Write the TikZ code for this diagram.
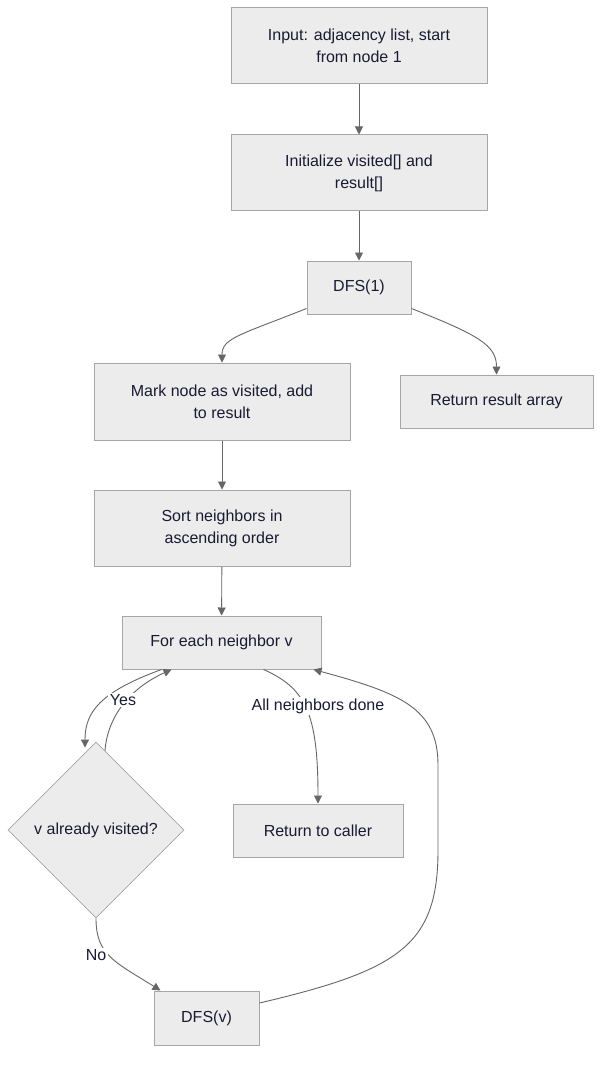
\documentclass[tikz,border=0pt]{standalone}
\usepackage{fontspec}
\setmainfont{Liberation Sans}
\usetikzlibrary{shapes.geometric,arrows.meta}
\definecolor{boxfill}{HTML}{ECECEC}
\definecolor{boxline}{HTML}{A6A6A6}
\definecolor{edgecol}{HTML}{666666}
\definecolor{txt}{HTML}{1A1A33}
\begin{document}
\begin{tikzpicture}[x=1pt,y=-1pt,
  box/.style={draw=boxline,fill=boxfill,line width=1pt,text=txt,align=center,inner sep=0pt,font=\fontsize{16}{22}\selectfont},
  dec/.style={diamond,draw=boxline,fill=boxfill,line width=0.8pt,text=txt,inner sep=0pt,minimum width=176pt,minimum height=176pt,aspect=1,font=\fontsize{16}{22}\selectfont},
  edge/.style={draw=edgecol,line width=0.9pt,-{Triangle[length=8pt,width=8pt]}},
  elabel/.style={fill=white,text=txt,inner sep=1.5pt,font=\fontsize{16}{18}\selectfont}]
\useasboundingbox[fill=white] (0,0) rectangle (609,1067);
\node[box,minimum width=256pt,minimum height=76pt] (input) at (359,46) {Input: adjacency list, start\\from node 1};
\node[box,minimum width=256pt,minimum height=76pt] (init) at (359,173) {Initialize visited[] and\\result[]};
\node[box,minimum width=104pt,minimum height=53pt] (dfs1) at (359,287.5) {DFS(1)};
\node[box,minimum width=256pt,minimum height=77pt] (mark) at (222,401.5) {Mark node as visited, add\\to result};
\node[box,minimum width=193pt,minimum height=53pt] (ret) at (496.5,401.5) {Return result array};
\node[box,minimum width=256pt,minimum height=76pt] (sort) at (222,528) {Sort neighbors in\\ascending order};
\node[box,minimum width=199pt,minimum height=53pt] (each) at (221.5,642.5) {For each neighbor v};
\node[dec] (vis) at (96,830) {v already visited?};
\node[box,minimum width=170pt,minimum height=53pt] (caller) at (318,830.5) {Return to caller};
\node[box,minimum width=105pt,minimum height=54pt] (dfsv) at (206.5,1018) {DFS(v)};

\draw[edge] (input) -- (init);
\draw[edge] (init) -- (dfs1);
\draw[edge] ([yshift=6pt]dfs1.south west) .. controls (240,335) and (222,338) .. (mark.north);
\draw[edge] ([yshift=6pt]dfs1.south east) .. controls (478,335) and (496.5,345) .. (ret.north);
\draw[edge] (mark) -- (sort);
\draw[edge] (sort) -- (each);
\draw[edge] ([xshift=-60pt]each.south) .. controls (100,692) and (85,712) .. ([xshift=-11pt,yshift=-6pt]vis.north);
\draw[edge] ([xshift=9pt,yshift=-9pt]vis.north) .. controls (108,712) and (135,686) .. ([xshift=-50pt]each.south);
\node[elabel] (lyes) at (123,700) {Yes};
\draw[edge] ([xshift=42pt]each.south) .. controls (305,688) and (318,712) .. (caller.north);
\node[elabel] (lall) at (318,706) {All neighbors done};
\draw[edge] (vis.south) .. controls (96,955) and (115,962) .. ([xshift=-46pt]dfsv.north);
\node[elabel] (lno) at (96,955) {No};
\draw[edge] ([yshift=15pt]dfsv.east) .. controls (400,970) and (438,945) .. (438,850) -- (438,765) .. controls (438,708) and (400,693) .. ([xshift=92pt]each.south);
\end{tikzpicture}
\end{document}
